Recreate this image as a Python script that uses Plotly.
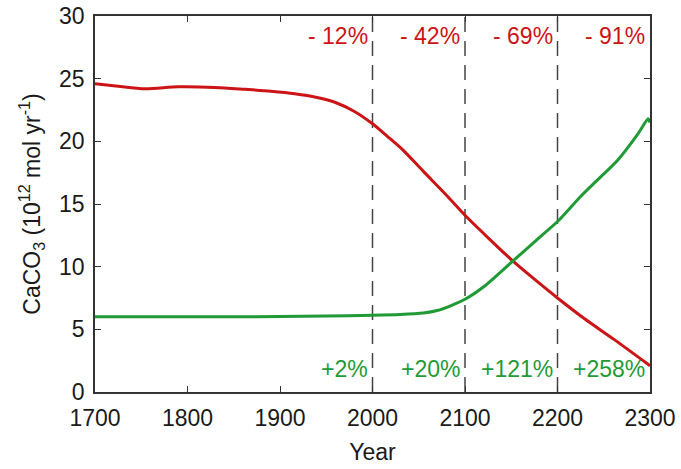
import plotly.graph_objects as go

# CaCO3 production and dissolution, 1700-2300
years_red = [1700, 1725, 1754, 1790, 1830, 1862, 1890, 1916, 1940, 1960, 1980,
             2000, 2016, 2033, 2055, 2080, 2100, 2125, 2151, 2175, 2200,
             2230, 2261, 2300]
caco3_red = [24.6, 24.4, 24.2, 24.35, 24.3, 24.15, 24.0, 23.8, 23.5, 23.1, 22.4,
             21.4, 20.4, 19.3, 17.6, 15.7, 14.1, 12.3, 10.5, 9.0, 7.5,
             5.8, 4.2, 2.1]

years_green = [1700, 1750, 1800, 1850, 1900, 1950, 2000, 2030, 2055, 2070, 2085,
               2100, 2122, 2151, 2177, 2200, 2225, 2243, 2265, 2287, 2298, 2300]
caco3_green = [6.0, 6.0, 6.0, 6.0, 6.02, 6.06, 6.12, 6.18, 6.3, 6.5, 6.9,
               7.4, 8.5, 10.4, 12.1, 13.6, 15.6, 16.9, 18.5, 20.6, 21.8, 21.5]

century_marks = [2000, 2100, 2200, 2300]
red_labels = ["- 12%", "- 42%", "- 69%", "- 91%"]
green_labels = ["+2%", "+20%", "+121%", "+258%"]
divider_years = [2000, 2100, 2200]

RED = "#cc1417"
GREEN = "#1f9a35"
FONT = "Liberation Sans, Arial, sans-serif"

fig = go.Figure()
fig.add_trace(go.Scatter(x=years_red, y=caco3_red, mode="lines",
                         line=dict(color=RED, width=3, shape="spline", smoothing=0.8),
                         showlegend=False))
fig.add_trace(go.Scatter(x=years_green, y=caco3_green, mode="lines",
                         line=dict(color=GREEN, width=3, shape="spline", smoothing=0.6),
                         showlegend=False))

for yr in divider_years:
    fig.add_shape(type="line", x0=yr, x1=yr, y0=0, y1=30, xref="x", yref="y",
                  line=dict(color="#444444", width=1.5, dash="15px,9px"), layer="below")

for yr, rl, gl in zip(century_marks, red_labels, green_labels):
    fig.add_annotation(x=yr - 3, y=28.4, text=rl, showarrow=False, xanchor="right",
                       yanchor="middle", font=dict(color=RED, size=23, family=FONT))
    fig.add_annotation(x=yr - 3, y=1.8, text=gl, showarrow=False, xanchor="right",
                       yanchor="middle", font=dict(color=GREEN, size=23, family=FONT))

axis_common = dict(showline=True, linecolor="#333333", linewidth=1.5, mirror="ticks",
                   ticks="inside", ticklen=6, tickcolor="#333333", tickwidth=1.2,
                   showgrid=False, zeroline=False, automargin=False,
                   tickfont=dict(size=23, family=FONT, color="#1a1a1a"))

fig.update_xaxes(range=[1700, 2300], tickvals=[1700, 1800, 1900, 2000, 2100, 2200, 2300],
                 ticklabelstandoff=5,
                 title=dict(text="Year", font=dict(size=23, family=FONT, color="#1a1a1a"),
                            standoff=14),
                 **axis_common)
fig.update_yaxes(range=[0, 30], tickvals=[0, 5, 10, 15, 20, 25, 30],
                 ticklabelstandoff=4,
                 title=dict(text="CaCO<sub>3</sub> (10<sup>12</sup> mol yr<sup>-1</sup>)",
                            font=dict(size=23, family=FONT, color="#1a1a1a"),
                            standoff=12),
                 **axis_common)

fig.update_layout(width=681, height=469, margin=dict(l=95, r=31, t=16, b=77),
                  paper_bgcolor="white", plot_bgcolor="white",
                  font=dict(family=FONT))

fig.write_html("out.html")
